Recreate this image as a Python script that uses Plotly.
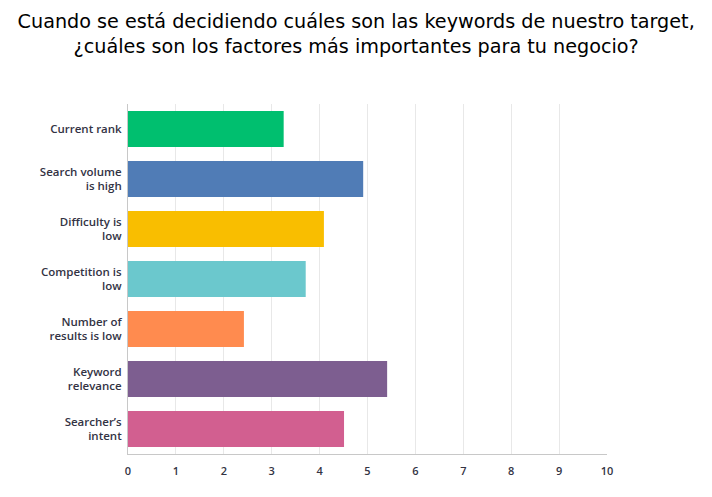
import plotly.graph_objects as go

categories = ["Current rank", "Search volume<br>is high", "Difficulty is<br>low",
              "Competition is<br>low", "Number of<br>results is low", "Keyword<br>relevance",
              "Searcher’s<br>intent"]
values = [3.25, 4.91, 4.09, 3.71, 2.42, 5.41, 4.51]
colors = ["#00bf6f", "#507cb6", "#f9be00", "#6bc8cd", "#ff8b4f", "#7d5e90", "#d25f90"]
x_ticks = list(range(0, 11))

fig = go.Figure()
fig.add_trace(go.Bar(x=values, y=categories, orientation="h",
                     marker=dict(color=colors, line=dict(width=0)),
                     hoverinfo="x+y"))

# page body has an 8px default margin, so the figure sits 8px right/down
fig.update_layout(
    width=712, height=497,
    margin=dict(l=120, r=113, t=96, b=51),
    paper_bgcolor="white", plot_bgcolor="white",
    bargap=0.28,
    showlegend=False,
    title=dict(text="Cuando se está decidiendo cuáles son las keywords de nuestro target,<br>¿cuáles son los factores más importantes para tu negocio?",
               x=0.489, xanchor="center", y=0.959, yanchor="top",
               font=dict(family="DejaVu Sans", size=19.2, color="#000000")),
    font=dict(family="Open Sans", size=11, color="#333e48"),
)
fig.update_xaxes(range=[0, 10], tickvals=x_ticks, showgrid=True, gridcolor="#e8e8e8", gridwidth=1,
                 showline=True, linecolor="#c8c8c8", linewidth=1, zeroline=False, automargin=False,
                 ticks="outside", ticklen=7, tickcolor="rgba(0,0,0,0)",
                 tickfont=dict(family="Open Sans", size=11, color="#333344", weight=600))
fig.update_yaxes(autorange="reversed", showline=True, linecolor="#c8c8c8", linewidth=1, automargin=False,
                 showgrid=False, ticks="outside", ticklen=3, tickcolor="rgba(0,0,0,0)",
                 tickfont=dict(family="Open Sans", size=11.5, color="#333344", weight=600))

fig.write_html("out.html")
